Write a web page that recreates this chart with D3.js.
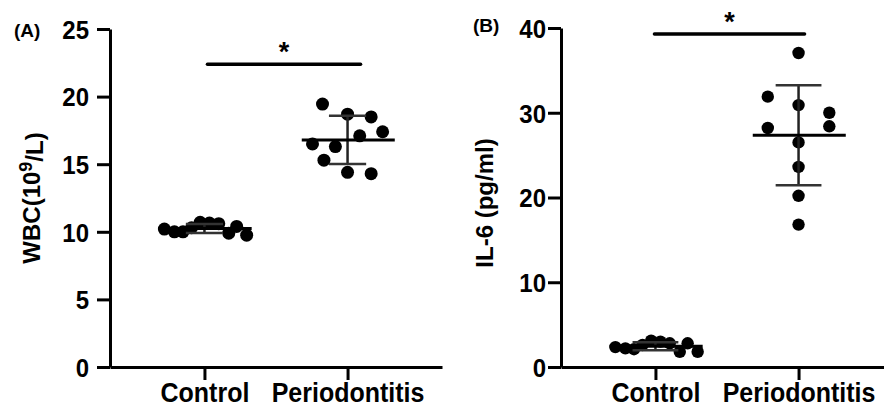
<!DOCTYPE html>
<html>
<head>
<meta charset="utf-8">
<script src="https://cdn.jsdelivr.net/npm/d3@7"></script>
<style>
  body { margin: 0; background: #fff; }
  svg text { font-family: "Liberation Sans", Arial, sans-serif; font-weight: bold; fill: #000; }
</style>
</head>
<body>
<div id="chart"></div>
<script>
// categories and tick labels
const groups = ["Control", "Periodontitis"];
const wbcTicks = [0, 5, 10, 15, 20, 25];
const il6Ticks = [0, 10, 20, 30, 40];

// (A) white blood cells, 10^9/L
const wbcControl = [10.2, 10.0, 10.0, 10.3, 10.7, 10.65, 10.6, 9.9, 10.4, 9.75];
const wbcPerio = [19.45, 18.7, 18.5, 17.4, 17.1, 16.5, 16.3, 15.3, 14.4, 14.3];

// (B) IL-6, pg/ml
const il6Control = [2.35, 2.2, 2.1, 2.6, 3.1, 3.0, 2.8, 1.8, 2.8, 1.8];
const il6Perio = [37.05, 31.9, 30.9, 30.0, 28.4, 28.2, 26.5, 23.6, 20.2, 16.8];

// horizontal scatter of the dots, as a fraction of half the category step
const controlJitter = [-0.56, -0.42, -0.30, -0.18, -0.06, 0.07, 0.20, 0.34, 0.45, 0.59];
const wbcPerioJitter = [-0.35, 0, 0.33, 0.49, 0.17, -0.49, -0.17, -0.33, 0, 0.33];
const il6PerioJitter = [0, -0.43, 0, 0.43, 0.43, -0.43, 0, 0, 0, 0];

class DotPlot {

  constructor (svg, opts) {
    this.svg = svg;
    this.opts = opts;
  }

  draw() {
    let o = this.opts;
    let g = this.svg.append("g").attr("transform", "translate(" + o.left + "," + o.top + ")");

    let xScale = d3.scalePoint()
      .domain(groups)
      .range([0, o.width])
      .padding(0.66);

    let yScale = d3.scaleLinear()
      .domain([0, d3.max(o.ticks)])
      .range([o.height, 0]);

    let jitterScale = d3.scaleLinear()
      .domain([-1, 1])
      .range([-xScale.step() / 2, xScale.step() / 2]);

    let yAxis = d3.axisLeft(yScale).tickValues(o.ticks).tickSize(13).tickPadding(o.tickPad).tickSizeOuter(0);
    let xAxis = d3.axisBottom(xScale).tickSize(13).tickPadding(4).tickSizeOuter(0);

    let yAxisElement = g.append("g").attr("class", "yAxis").call(yAxis);
    let xAxisElement = g.append("g").attr("class", "xAxis")
      .attr("transform", "translate(0," + o.height + ")")
      .call(xAxis);

    [yAxisElement, xAxisElement].forEach(function(ax) {
      ax.select(".domain").attr("stroke", "#000").attr("stroke-width", 3);
      ax.selectAll(".tick line").attr("stroke", "#000").attr("stroke-width", 3);
    });
    yAxisElement.selectAll(".tick text")
      .style("font-size", "24px")
      .attr("x", 0).attr("dy", "0.36em")
      .attr("transform", "translate(" + (-13 - o.tickPad) + ",0) scale(1,1.08)");
    // the category names are set a bit taller than wide
    xAxisElement.selectAll(".tick text")
      .style("font-size", "25px")
      .attr("y", 0).attr("dy", 0)
      .attr("transform", "translate(0,35) scale(1,1.12)");

    // dots
    let series = [
      {group: groups[0], values: o.control, jitter: controlJitter},
      {group: groups[1], values: o.perio, jitter: o.perioJitter}
    ];

    series.forEach(function(s) {
      let cx = xScale(s.group);

      g.append("g").selectAll("circle").data(s.values)
        .enter()
        .append("circle")
        .attr("cx", (d, i) => cx + jitterScale(s.jitter[i]))
        .attr("cy", d => yScale(d))
        .attr("r", o.radius)
        .attr("fill", "#000");

      let mean = d3.mean(s.values);
      let sd = d3.deviation(s.values);
      let stats = g.append("g");

      stats.append("line")
        .attr("x1", cx).attr("x2", cx)
        .attr("y1", yScale(mean + sd)).attr("y2", yScale(mean - sd))
        .attr("stroke", "#222").attr("stroke-width", 2.5);

      [mean + sd, mean - sd].forEach(function(v) {
        stats.append("line")
          .attr("x1", cx - xScale.step() * o.sdHalf).attr("x2", cx + xScale.step() * o.sdHalf)
          .attr("y1", yScale(v)).attr("y2", yScale(v))
          .attr("stroke", "#333").attr("stroke-width", 2.5);
      });

      stats.append("line")
        .attr("x1", cx - xScale.step() * 0.32).attr("x2", cx + xScale.step() * 0.33)
        .attr("y1", yScale(mean)).attr("y2", yScale(mean))
        .attr("stroke", "#000").attr("stroke-width", 3);
    });

    // significance bar
    let x1 = xScale(groups[0]) + o.barShift[0];
    let x2 = xScale(groups[1]) + o.barShift[1];
    g.append("line")
      .attr("x1", x1).attr("x2", x2)
      .attr("y1", yScale(o.barAt)).attr("y2", yScale(o.barAt))
      .attr("stroke", "#000").attr("stroke-width", 3.5)
      .attr("stroke-linecap", "round");

    g.append("text")
      .attr("x", (x1 + x2) / 2)
      .attr("y", yScale(o.barAt) - 3)
      .style("text-anchor", "middle")
      .style("font-size", "27px")
      .text("*");

    // axis title
    let title = g.append("text")
      .attr("transform", "rotate(-90)")
      .attr("x", -o.labelY)
      .attr("y", o.labelX)
      .style("text-anchor", "middle")
      .style("font-size", "24px");
    if (o.sup) {
      title.append("tspan").text(o.label[0]);
      title.append("tspan").attr("dy", "-0.45em").style("font-size", "18px").text(o.sup);
      title.append("tspan").attr("dy", "0.45em").text(o.label[1]);
    } else {
      title.text(o.label);
    }

    // panel letter
    this.svg.append("text")
      .attr("x", o.letterX)
      .attr("y", o.letterY)
      .style("font-size", "19px")
      .text(o.letter);
  }
}

let svg = d3.select("#chart").append("svg")
  .attr("width", 884)
  .attr("height", 409);

let panelA = new DotPlot(svg, {
  left: 110, top: 29, width: 332, height: 338,
  ticks: wbcTicks, tickPad: 8,
  control: wbcControl, perio: wbcPerio, perioJitter: wbcPerioJitter,
  radius: 6.5, sdHalf: 0.13,
  barAt: 22.4, barShift: [3, 13],
  label: ["WBC(10", "/L)"], sup: "9", labelX: -70, labelY: 169,
  letter: "(A)", letterX: 14, letterY: 37
});
panelA.draw();

let panelB = new DotPlot(svg, {
  left: 561, top: 28, width: 332, height: 339,
  ticks: il6Ticks, tickPad: 2,
  control: il6Control, perio: il6Perio, perioJitter: il6PerioJitter,
  radius: 6.2, sdHalf: 0.16,
  barAt: 39.3, barShift: [-1, 6],
  label: "IL-6 (pg/ml)", labelX: -68, labelY: 175,
  letter: "(B)", letterX: 473, letterY: 32
});
panelB.draw();
</script>
</body>
</html>
